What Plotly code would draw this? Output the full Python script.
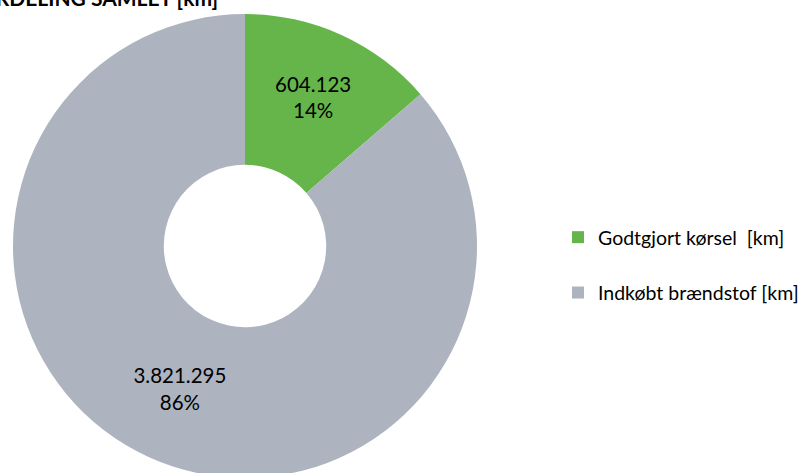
import plotly.graph_objects as go

# Data
labels = ["Godtgjort kørsel  [km]", "Indkøbt brændstof [km]"]
values = [604123, 3821295]
colors = ["#65B54A", "#ADB4BF"]
title_text = "FORDELING SAMLET [km]"

W, H = 804, 480
FONT = "Lato, 'Open Sans', sans-serif"

fig = go.Figure()

fig.add_trace(go.Pie(
    labels=labels,
    values=values,
    hole=0.35,
    sort=False,
    direction="clockwise",
    rotation=0,
    marker=dict(colors=colors, line=dict(width=0)),
    texttemplate="%{value:,}<br>%{percent:.0%}",
    textposition="inside",
    insidetextorientation="horizontal",
    textfont=dict(family=FONT, size=20.5, color="#000000"),
    showlegend=False,
    hoverinfo="label+value+percent",
    domain=dict(x=[13 / W, 477 / W], y=[(H - 478) / H, (H - 14) / H]),
))

# Legend entries, one group per category so the rows can be spaced apart
for i, (lab, col) in enumerate(zip(labels, colors)):
    fig.add_trace(go.Scatter(
        x=[None], y=[None], mode="markers", name=lab,
        marker=dict(symbol="square", size=12, color=col),
        legendgroup=f"g{i}", showlegend=True, hoverinfo="skip",
    ))

fig.update_layout(
    width=W, height=H,
    autosize=False,
    margin=dict(l=0, r=0, t=0, b=0),
    paper_bgcolor="white",
    plot_bgcolor="white",
    separators=",.",
    xaxis=dict(visible=False),
    yaxis=dict(visible=False),
    legend=dict(
        x=558 / W, xanchor="left",
        y=(H - 265) / H, yanchor="middle",
        font=dict(family=FONT, size=19.5, color="#000000"),
        tracegroupgap=27,
        itemwidth=30,
        bgcolor="rgba(0,0,0,0)",
    ),
    annotations=[dict(
        text=f"<b>{title_text}</b>",
        xref="paper", yref="paper",
        x=220 / W, y=1, xanchor="right", yanchor="bottom",
        yshift=-12,
        showarrow=False,
        font=dict(family=FONT, size=21, color="#000000"),
    )],
)

fig.write_html(
    "out.html",
    post_script="document.documentElement.style.overflow='hidden';document.body.style.overflow='hidden';",
)
